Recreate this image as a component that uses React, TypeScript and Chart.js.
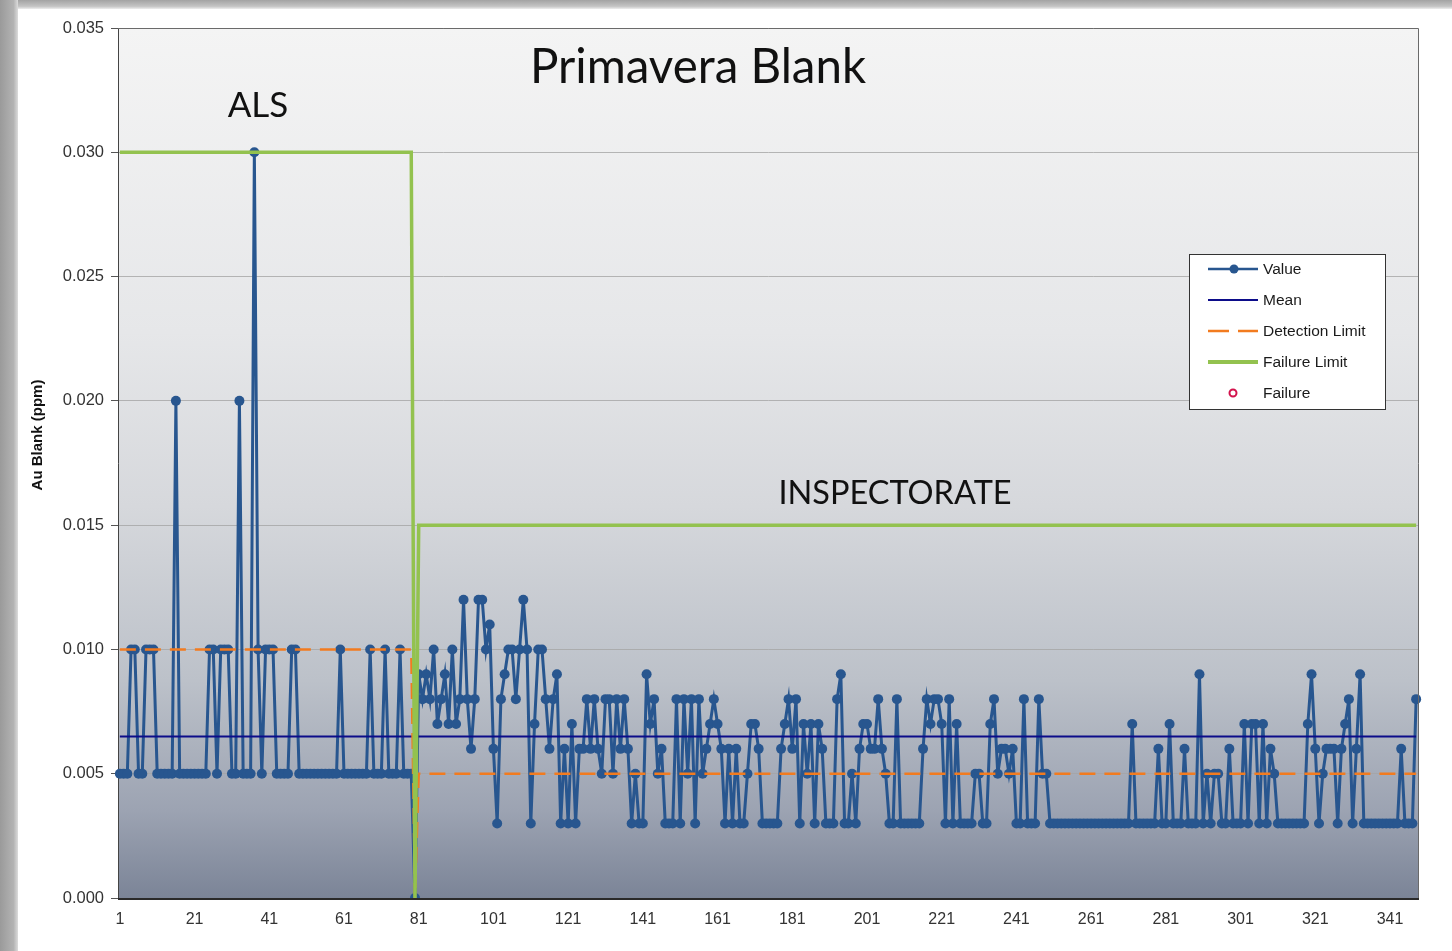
import React, { useEffect, useRef } from 'react';
import { Chart, registerables } from 'chart.js';

Chart.register(...registerables);

// ---- Data ----
const alsValues = [
  0.005, 0.005, 0.005, 0.010, 0.010, 0.005, 0.005, 0.010, 0.010, 0.010,
  0.005, 0.005, 0.005, 0.005, 0.005, 0.020, 0.005, 0.005, 0.005, 0.005,
  0.005, 0.005, 0.005, 0.005, 0.010, 0.010, 0.005, 0.010, 0.010, 0.010,
  0.005, 0.005, 0.020, 0.005, 0.005, 0.005, 0.030, 0.010, 0.005, 0.010,
  0.010, 0.010, 0.005, 0.005, 0.005, 0.005, 0.010, 0.010, 0.005, 0.005,
  0.005, 0.005, 0.005, 0.005, 0.005, 0.005, 0.005, 0.005, 0.005, 0.010,
  0.005, 0.005, 0.005, 0.005, 0.005, 0.005, 0.005, 0.010, 0.005, 0.005,
  0.005, 0.010, 0.005, 0.005, 0.005, 0.010, 0.005, 0.005, 0.005,
];

const separatorValue = 0;

const inspectorateValues = [
  0.009, 0.008, 0.009, 0.008, 0.010, 0.007, 0.008, 0.009, 0.007, 0.010,
  0.007, 0.008, 0.012, 0.008, 0.006, 0.008, 0.012, 0.012, 0.010, 0.011,
  0.006, 0.003, 0.008, 0.009, 0.010, 0.010, 0.008, 0.010, 0.012, 0.010,
  0.003, 0.007, 0.010, 0.010, 0.008, 0.006, 0.008, 0.009, 0.003, 0.006,
  0.003, 0.007, 0.003, 0.006, 0.006, 0.008, 0.006, 0.008, 0.006, 0.005,
  0.008, 0.008, 0.005, 0.008, 0.006, 0.008, 0.006, 0.003, 0.005, 0.003,
  0.003, 0.009, 0.007, 0.008, 0.005, 0.006, 0.003, 0.003, 0.003, 0.008,
  0.003, 0.008, 0.005, 0.008, 0.003, 0.008, 0.005, 0.006, 0.007, 0.008,
  0.007, 0.006, 0.003, 0.006, 0.003, 0.006, 0.003, 0.003, 0.005, 0.007,
  0.007, 0.006, 0.003, 0.003, 0.003, 0.003, 0.003, 0.006, 0.007, 0.008,
  0.006, 0.008, 0.003, 0.007, 0.005, 0.007, 0.003, 0.007, 0.006, 0.003,
  0.003, 0.003, 0.008, 0.009, 0.003, 0.003, 0.005, 0.003, 0.006, 0.007,
  0.007, 0.006, 0.006, 0.008, 0.006, 0.005, 0.003, 0.003, 0.008, 0.003,
  0.003, 0.003, 0.003, 0.003, 0.003, 0.006, 0.008, 0.007, 0.008, 0.008,
  0.007, 0.003, 0.008, 0.003, 0.007, 0.003, 0.003, 0.003, 0.003, 0.005,
  0.005, 0.003, 0.003, 0.007, 0.008, 0.005, 0.006, 0.006, 0.005, 0.006,
  0.003, 0.003, 0.008, 0.003, 0.003, 0.003, 0.008, 0.005, 0.005, 0.003,
  0.003, 0.003, 0.003, 0.003, 0.003, 0.003, 0.003, 0.003, 0.003, 0.003,
  0.003, 0.003, 0.003, 0.003, 0.003, 0.003, 0.003, 0.003, 0.003, 0.003,
  0.003, 0.007, 0.003, 0.003, 0.003, 0.003, 0.003, 0.003, 0.006, 0.003,
  0.003, 0.007, 0.003, 0.003, 0.003, 0.006, 0.003, 0.003, 0.003, 0.009,
  0.003, 0.005, 0.003, 0.005, 0.005, 0.003, 0.003, 0.006, 0.003, 0.003,
  0.003, 0.007, 0.003, 0.007, 0.007, 0.003, 0.007, 0.003, 0.006, 0.005,
  0.003, 0.003, 0.003, 0.003, 0.003, 0.003, 0.003, 0.003, 0.007, 0.009,
  0.006, 0.003, 0.005, 0.006, 0.006, 0.006, 0.003, 0.006, 0.007, 0.008,
  0.003, 0.006, 0.009, 0.003, 0.003, 0.003, 0.003, 0.003, 0.003, 0.003,
  0.003, 0.003, 0.003, 0.006, 0.003, 0.003, 0.003, 0.008,
];

const meanValue = 0.0065;
const alsDetectionLimit = 0.010;
const inspectorateDetectionLimit = 0.005;
const alsFailureLimit = 0.030;
const inspectorateFailureLimit = 0.015;
const separatorLimit = 0;

const yTicks = [0, 0.005, 0.01, 0.015, 0.02, 0.025, 0.03, 0.035];
const xTickLabels = ['1', '21', '41', '61', '81', '101', '121', '141', '161', '181', '201', '221', '241', '261', '281', '301', '321', '341'];
const seriesNames = ['Value', 'Mean', 'Detection Limit', 'Failure Limit', 'Failure'];

const chartTitle = 'Primavera Blank';
const alsLabel = 'ALS';
const inspectorateLabel = 'INSPECTORATE';
const yAxisTitle = 'Au Blank (ppm)';

// ---- Derived tables ----
const values = [...alsValues, separatorValue, ...inspectorateValues];
const categories = values.map((_, i) => String(i + 1));
const meanSeries = values.map(() => meanValue);
const detectionSeries = [
  ...alsValues.map(() => alsDetectionLimit),
  separatorLimit,
  ...inspectorateValues.map(() => inspectorateDetectionLimit),
];
const failureSeries = [
  ...alsValues.map(() => alsFailureLimit),
  separatorLimit,
  ...inspectorateValues.map(() => inspectorateFailureLimit),
];

const COLORS = {
  value: '#28568f',
  mean: '#0c0c8a',
  detection: '#f27b1f',
  failure: '#93c24f',
  failMarker: '#d3124c',
};

const SANS = "'Liberation Sans', Arial, sans-serif";
const CALIBRI_LIKE = "Lato, 'Open Sans', sans-serif";

const backgroundPlugin = {
  id: 'plotBackground',
  beforeDraw(chart: any) {
    const { ctx, chartArea } = chart;
    const { left, top, right, bottom } = chartArea;
    const g = ctx.createLinearGradient(0, top, 0, bottom);
    g.addColorStop(0, '#f4f4f4');
    g.addColorStop(0.35, '#e6e7e9');
    g.addColorStop(0.55, '#d6d8dc');
    g.addColorStop(0.75, '#bcc1c9');
    g.addColorStop(0.9, '#9ca3b2');
    g.addColorStop(1, '#7b8497');
    ctx.save();
    ctx.fillStyle = g;
    ctx.fillRect(left, top, right - left, bottom - top);
    ctx.restore();
  },
};

const overlayPlugin = {
  id: 'overlay',
  afterDraw(chart: any) {
    const { ctx, chartArea } = chart;
    const { left, top, right, bottom } = chartArea;
    ctx.save();
    // plot frame
    ctx.strokeStyle = '#6a6a6a';
    ctx.lineWidth = 1;
    ctx.beginPath();
    ctx.moveTo(left, top + 0.5);
    ctx.lineTo(right + 0.5, top + 0.5);
    ctx.lineTo(right + 0.5, bottom);
    ctx.stroke();
    ctx.strokeStyle = '#2a2a2a';
    ctx.lineWidth = 2;
    ctx.beginPath();
    ctx.moveTo(left, bottom + 1);
    ctx.lineTo(right + 1, bottom + 1);
    ctx.stroke();

    // annotations
    ctx.fillStyle = '#111';
    ctx.textAlign = 'center';
    ctx.textBaseline = 'middle';
    ctx.font = `47.5px ${CALIBRI_LIKE}`;
    ctx.fillText(chartTitle, 698, 68);
    ctx.font = `35px ${CALIBRI_LIKE}`;
    ctx.fillText(alsLabel, 258, 106);
    ctx.font = `32.5px ${CALIBRI_LIKE}`;
    ctx.fillText(inspectorateLabel, 895, 494);

    // y-axis title
    ctx.save();
    ctx.translate(38, 435);
    ctx.rotate(-Math.PI / 2);
    ctx.font = `bold 15px ${SANS}`;
    ctx.fillStyle = '#111';
    ctx.fillText(yAxisTitle, 0, 0);
    ctx.restore();

    // legend
    const bx = 1189.5, by = 254.5, bw = 196, bh = 155;
    ctx.fillStyle = '#ffffff';
    ctx.fillRect(bx, by, bw, bh);
    ctx.strokeStyle = '#333';
    ctx.lineWidth = 1;
    ctx.strokeRect(bx, by, bw, bh);
    const rows = [269, 300, 331, 362, 393];
    const x0 = 1208, x1 = 1258, tx = 1263;
    ctx.font = `15.5px ${SANS}`;
    ctx.textAlign = 'left';
    ctx.textBaseline = 'middle';
    seriesNames.forEach((name, i) => {
      const y = rows[i];
      ctx.save();
      if (i === 0) {
        ctx.strokeStyle = COLORS.value; ctx.lineWidth = 2.5;
        ctx.beginPath(); ctx.moveTo(x0, y); ctx.lineTo(x1, y); ctx.stroke();
        ctx.fillStyle = COLORS.value;
        ctx.beginPath(); ctx.arc(1234, y, 4.5, 0, Math.PI * 2); ctx.fill();
      } else if (i === 1) {
        ctx.strokeStyle = COLORS.mean; ctx.lineWidth = 2;
        ctx.beginPath(); ctx.moveTo(x0, y); ctx.lineTo(x1, y); ctx.stroke();
      } else if (i === 2) {
        ctx.strokeStyle = COLORS.detection; ctx.lineWidth = 2.5;
        ctx.setLineDash([21, 9]);
        ctx.beginPath(); ctx.moveTo(x0, y); ctx.lineTo(x1, y); ctx.stroke();
      } else if (i === 3) {
        ctx.strokeStyle = COLORS.failure; ctx.lineWidth = 4;
        ctx.beginPath(); ctx.moveTo(x0, y); ctx.lineTo(x1, y); ctx.stroke();
      } else {
        ctx.strokeStyle = COLORS.failMarker; ctx.lineWidth = 2;
        ctx.beginPath(); ctx.arc(1233, y, 3.5, 0, Math.PI * 2); ctx.stroke();
      }
      ctx.restore();
      ctx.fillStyle = '#1a1a1a';
      ctx.fillText(name, tx, y + 1);
    });
    ctx.restore();
  },
};

export default function App() {
  const canvasRef = useRef<HTMLCanvasElement | null>(null);

  useEffect(() => {
    const canvas = canvasRef.current;
    if (!canvas) return;
    const chart = new Chart(canvas, {
      type: 'line',
      data: {
        labels: categories,
        datasets: [
          {
            label: seriesNames[0],
            data: values,
            borderColor: COLORS.value,
            backgroundColor: COLORS.value,
            borderWidth: 3,
            pointRadius: 5,
            pointBorderWidth: 0,
            pointBackgroundColor: COLORS.value,
            tension: 0,
            order: 10,
          },
          {
            label: seriesNames[1],
            data: meanSeries,
            borderColor: COLORS.mean,
            borderWidth: 2,
            pointRadius: 0,
            order: 3,
          },
          {
            label: seriesNames[2],
            data: detectionSeries,
            borderColor: COLORS.detection,
            borderWidth: 2.5,
            borderDash: [16, 9],
            pointRadius: 0,
            order: 2,
          },
          {
            label: seriesNames[3],
            data: failureSeries,
            borderColor: COLORS.failure,
            borderWidth: 3.5,
            pointRadius: 0,
            order: 1,
          },
          {
            label: seriesNames[4],
            data: [],
            borderColor: COLORS.failMarker,
            backgroundColor: 'transparent',
            pointRadius: 4,
            showLine: false,
            order: 0,
          },
        ],
      },
      options: {
        animation: false,
        responsive: false,
        maintainAspectRatio: false,
        layout: { padding: { left: 0, right: 34, top: 28, bottom: 0 } },
        plugins: {
          legend: { display: false },
          tooltip: { enabled: false },
          title: { display: false },
        },
        scales: {
          x: {
            type: 'category',
            offset: true,
            grid: { display: false, drawTicks: false },
            border: { display: false },
            ticks: {
              autoSkip: false,
              maxRotation: 0,
              minRotation: 0,
              padding: 12,
              color: '#333',
              font: { family: SANS, size: 16 },
              callback: (_v: any, i: number) =>
                xTickLabels.includes(categories[i]) ? categories[i] : '',
            },
            afterFit: (s: any) => {
              s.height = 53;
            },
          },
          y: {
            min: 0,
            max: 0.035,
            afterBuildTicks: (s: any) => {
              s.ticks = yTicks.map((v) => ({ value: v }));
            },
            ticks: {
              padding: 7,
              color: '#333',
              font: { family: SANS, size: 16.5 },
              callback: (v: any) => Number(v).toFixed(3),
            },
            grid: {
              color: 'rgba(165,165,165,0.8)',
              tickColor: '#555',
              tickLength: 7,
              lineWidth: 1,
            },
            border: { display: true, color: '#444', width: 1 },
            afterFit: (s: any) => {
              s.width = 118;
            },
          },
        },
      },
      plugins: [backgroundPlugin, overlayPlugin],
    } as any);
    return () => chart.destroy();
  }, []);

  return (
    <div style={{ position: 'absolute', left: 0, top: 0, width: 1452, height: 951, background: '#ffffff', overflow: 'hidden' }}>
      <div style={{ position: 'absolute', left: 0, top: 0, width: 1452, height: 9, background: 'linear-gradient(to bottom, #a3a3a3, #c4c4c4 70%, #ededed)' }} />
      <div style={{ position: 'absolute', left: 0, top: 0, width: 18, height: 951, background: 'linear-gradient(to right, #9a9a9a, #b3b3b3 75%, #dcdcdc)' }} />
      <canvas ref={canvasRef} width={1452} height={951} style={{ position: 'absolute', left: 0, top: 0, display: 'block' }} />
    </div>
  );
}
